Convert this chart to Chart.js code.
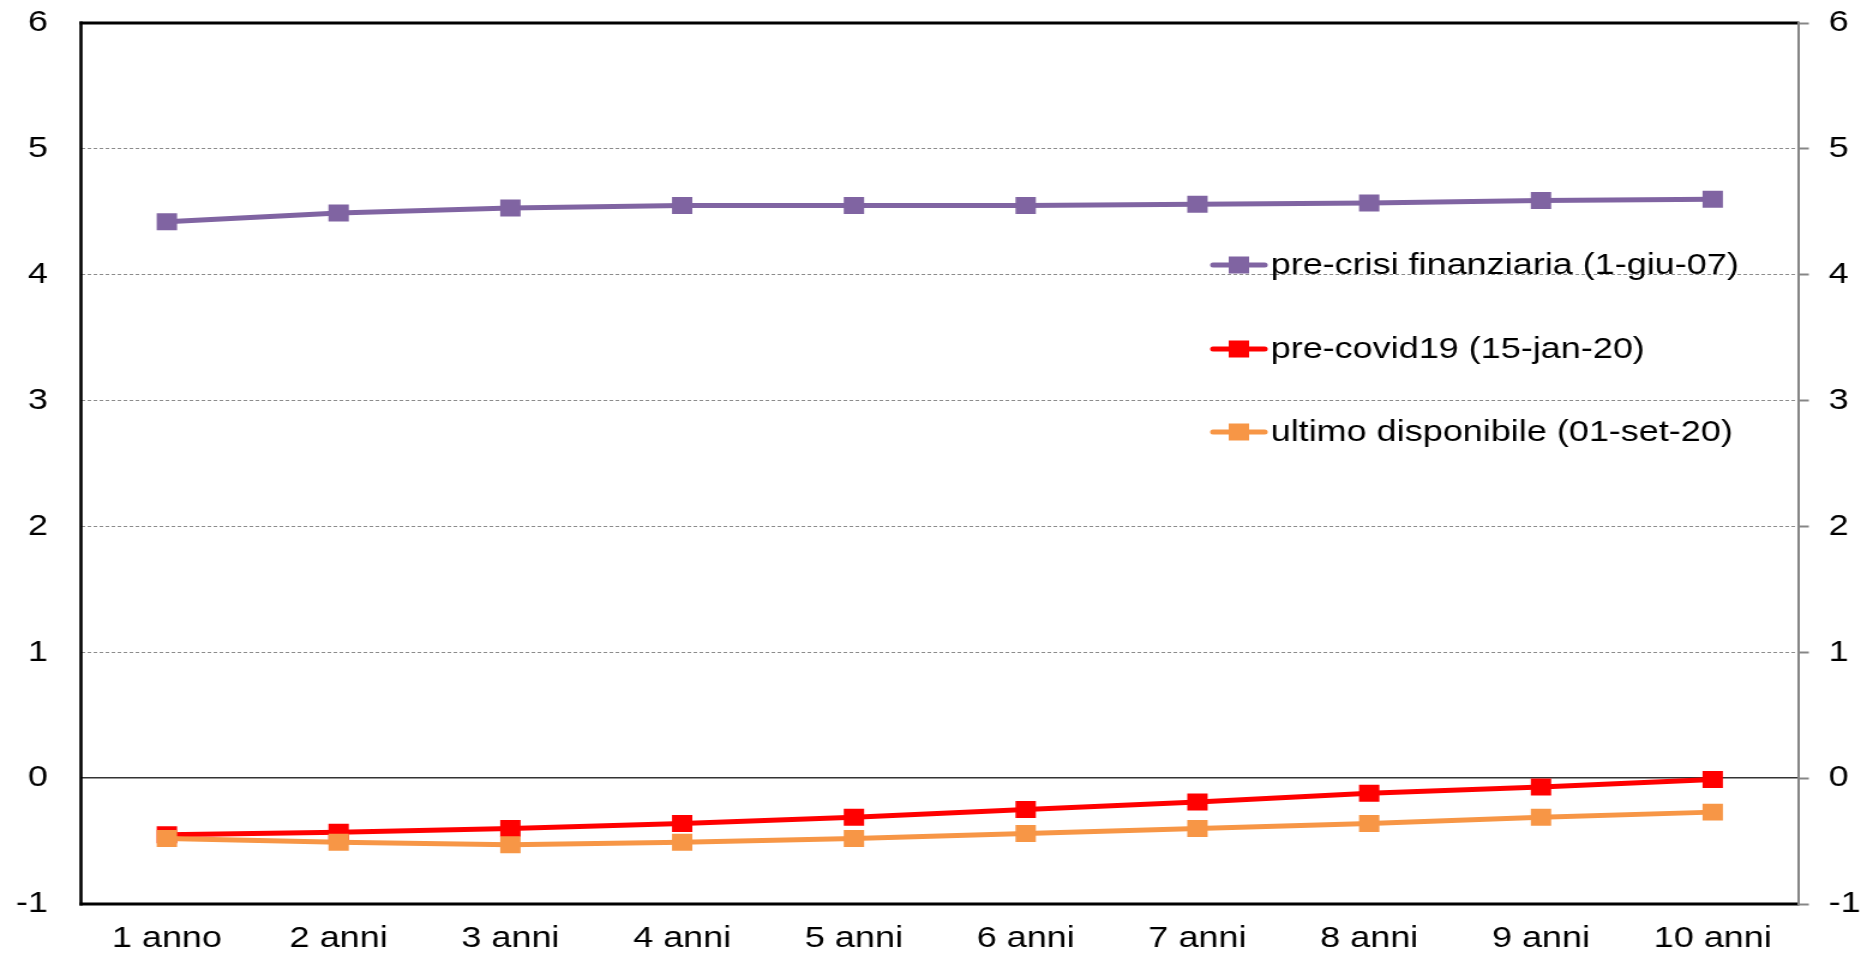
<!DOCTYPE html>
<html>
<head>
<meta charset="utf-8">
<script src="https://cdn.jsdelivr.net/npm/chart.js@4.4.1/dist/chart.umd.min.js"></script>
<style>
  html, body { margin: 0; padding: 0; background: #fff; overflow: hidden; }
  /* the original picture is stretched sideways, so the canvas is too */
  #wrap { width: 1551px; height: 955px; transform: scaleX(1.19987); transform-origin: 0 0; }
</style>
</head>
<body>
<div id="wrap"><canvas id="curveChart" width="1551" height="955"></canvas></div>
<script>
// ===== DATA =====
const maturities = ["1 anno", "2 anni", "3 anni", "4 anni", "5 anni", "6 anni", "7 anni", "8 anni", "9 anni", "10 anni"];

const preCrisi = [4.42, 4.49, 4.53, 4.55, 4.55, 4.55, 4.56, 4.57, 4.59, 4.60];
const preCovid = [-0.45, -0.43, -0.40, -0.36, -0.31, -0.25, -0.19, -0.12, -0.07, -0.01];
const ultimo = [-0.48, -0.51, -0.53, -0.51, -0.48, -0.44, -0.40, -0.36, -0.31, -0.27];

const seriesLabels = [
  "pre-crisi finanziaria (1-giu-07)",
  "pre-covid19 (15-jan-20)",
  "ultimo disponibile (01-set-20)",
];
const seriesColors = ["#8064A2", "#FF0000", "#F79646"];

const yMin = -1;
const yMax = 6;

const FONT = "'Liberation Sans', Arial, sans-serif";
Chart.defaults.font.family = FONT;
Chart.defaults.color = "#000";

// frame round the plot: black top/left/bottom, grey right
const framePlugin = {
  id: "frame",
  beforeDatasetsDraw(chart) {
    const { ctx, chartArea: a } = chart;
    ctx.save();
    ctx.strokeStyle = "#000";
    ctx.lineWidth = 3;
    ctx.beginPath();
    ctx.moveTo(a.left - 1.2, a.top);
    ctx.lineTo(a.right, a.top);
    ctx.moveTo(a.left - 1.2, a.bottom);
    ctx.lineTo(a.right, a.bottom);
    ctx.stroke();
    ctx.lineWidth = 2.6;
    ctx.beginPath();
    ctx.moveTo(a.left, a.top - 1.5);
    ctx.lineTo(a.left, a.bottom + 1.5);
    ctx.stroke();
    ctx.strokeStyle = "#868686";
    ctx.lineWidth = 2;
    ctx.beginPath();
    ctx.moveTo(a.right, a.top - 1.5);
    ctx.lineTo(a.right, a.bottom + 1.5);
    ctx.stroke();
    ctx.restore();
  },
};

// legend inside the plot, on the right
const legendPlugin = {
  id: "insideLegend",
  afterDraw(chart) {
    const { ctx, chartArea: a } = chart;
    const x0 = a.left + 943.5;
    const rows = [a.top + 242, a.top + 326, a.top + 409];
    ctx.save();
    seriesLabels.forEach((label, i) => {
      const y = rows[i];
      ctx.strokeStyle = seriesColors[i];
      ctx.lineWidth = 5;
      ctx.lineCap = "round";
      ctx.beginPath();
      ctx.moveTo(x0, y);
      ctx.lineTo(x0 + 43, y);
      ctx.stroke();
      ctx.fillStyle = seriesColors[i];
      ctx.fillRect(x0 + 21.5 - 8.5, y - 8.5, 17, 17);
      ctx.fillStyle = "#000";
      ctx.font = "30px " + FONT;
      ctx.textAlign = "left";
      ctx.textBaseline = "middle";
      ctx.fillText(label, x0 + 48, y + 1);
    });
    ctx.restore();
  },
};

const lineDataset = (label, data, color, order) => ({
  label: label,
  data: data,
  borderColor: color,
  backgroundColor: color,
  borderWidth: 5,
  pointStyle: "rect",
  pointRadius: 12,
  pointHoverRadius: 12,
  pointBorderWidth: 0,
  pointBackgroundColor: color,
  tension: 0,
  fill: false,
  order: order,
  yAxisID: "y",
});

const gridColor = (c) => {
  const v = c.tick ? c.tick.value : null;
  if (v === yMin || v === yMax) return "rgba(0,0,0,0)";
  if (v === 0) return "#333";
  return "#8c8c8c";
};

// tick padding would otherwise push the plot down from the top
const fixY = (w) => (s) => {
  s.width = w;
  s.paddingTop = 0;
  s.paddingBottom = 0;
};

new Chart(document.getElementById("curveChart"), {
  type: "line",
  data: {
    labels: maturities,
    datasets: [
      lineDataset(seriesLabels[0], preCrisi, seriesColors[0], 3),
      lineDataset(seriesLabels[1], preCovid, seriesColors[1], 2),
      lineDataset(seriesLabels[2], ultimo, seriesColors[2], 1),
    ],
  },
  options: {
    responsive: false,
    animation: false,
    devicePixelRatio: 1,
    layout: { padding: { top: 23, left: 0, right: 0, bottom: 0 } },
    plugins: {
      legend: { display: false },
      tooltip: { enabled: false },
    },
    scales: {
      x: {
        offset: true,
        grid: { display: false, drawTicks: false },
        border: { display: false },
        ticks: { font: { size: 30 }, color: "#000", padding: 17, maxRotation: 0, autoSkip: false },
        afterFit: (s) => {
          s.height = 51;
          s.paddingLeft = 0;
          s.paddingRight = 0;
        },
      },
      y: {
        position: "left",
        min: yMin,
        max: yMax,
        ticks: { stepSize: 1, font: { size: 30 }, color: "#000", padding: 27.5 },
        grid: {
          drawTicks: false,
          color: gridColor,
          lineWidth: (c) => (c.tick && c.tick.value === 0 ? 1.5 : 1),
        },
        border: {
          display: false,
          dash: (c) => (c.tick && c.tick.value === 0 ? [] : [3, 2]),
        },
        afterFit: fixY(67.5),
      },
      y2: {
        position: "right",
        min: yMin,
        max: yMax,
        ticks: { stepSize: 1, font: { size: 30 }, color: "#000", padding: 16.5 },
        grid: {
          drawOnChartArea: false,
          drawTicks: true,
          tickLength: 8.5,
          tickColor: "#868686",
          tickWidth: 2,
        },
        border: { display: false },
        afterFit: fixY(52),
      },
    },
  },
  plugins: [framePlugin, legendPlugin],
});
</script>
</body>
</html>
